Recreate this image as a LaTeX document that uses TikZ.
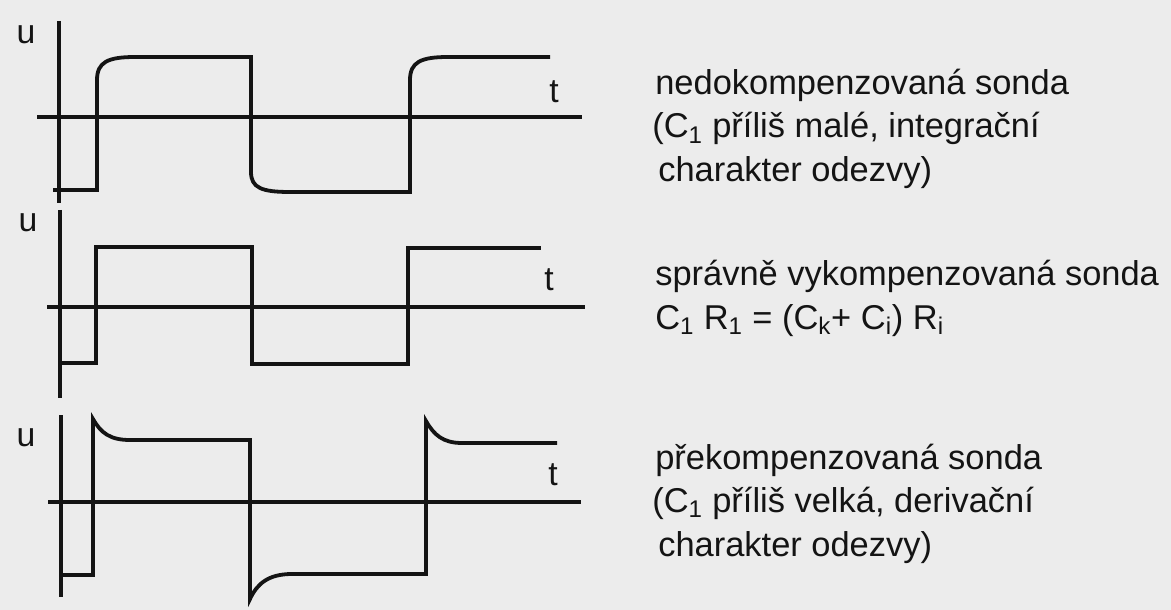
\documentclass[tikz,border=0pt]{standalone}
\usepackage{fontspec}
\setmainfont{Liberation Sans}
\usepackage{xcolor}
\usepackage{tikz}

\definecolor{scanbg}{RGB}{236,236,236}
\definecolor{ink}{RGB}{20,20,20}

\begin{document}
\begin{tikzpicture}[x=0.025cm, y=-0.025cm,
    axis/.style={draw=ink, line width=2.3pt},
    wave/.style={draw=ink, line width=2.7pt, line join=miter},
    axlabel/.style={text=ink, inner sep=0pt, font=\fontsize{24}{28}\selectfont},
    caption/.style={text=ink, inner sep=0pt, anchor=base west,
                    font=\fontsize{24.5}{29}\selectfont}]

    % Scanned page background
    \fill[scanbg] (0,0) rectangle (1171,610);
    \useasboundingbox (0,0) rectangle (1171,610);

    % --------------------
    % Undercompensated probe
    % --------------------
    \draw[axis] (59,21) -- (59,203);
    \draw[axis] (37,117) -- (582,117);
    \node[axlabel] (uA) at (26,35) {u};
    \node[axlabel] (tA) at (554,92) {t};
    \draw[wave] (53,190) -- (97,190) -- (97,80)
        .. controls (97,62) and (108,57) .. (135,57) -- (251,57) -- (251,172)
        .. controls (251,188) and (262,192) .. (290,192) -- (410,192) -- (410,80)
        .. controls (410,62) and (421,57) .. (448,57) -- (550,57);

    \node[caption] (lineA1) at (655,95) {nedokompenzovaná sonda};
    \node[caption] (lineA2) at (652,138) {(C\textsubscript{1} příliš malé, integrační};
    \node[caption] (lineA3) at (658,182) {charakter odezvy)};

    % --------------------
    % Correctly compensated probe
    % --------------------
    \draw[axis] (60,210) -- (60,398);
    \draw[axis] (47,307) -- (585,307);
    \node[axlabel] (uB) at (28,223) {u};
    \node[axlabel] (tB) at (549,280) {t};
    \draw[wave] (60,363) -- (96,363) -- (96,247) -- (252,247) -- (252,364)
        -- (408,364) -- (408,248) -- (541,248);

    \node[caption] (lineB1) at (655,285) {správně vykompenzovaná sonda};
    \node[caption] (lineB2) at (655,329)
        {C\textsubscript{1} R\textsubscript{1} = (C\textsubscript{k}+ C\textsubscript{i}) R\textsubscript{i}};

    % --------------------
    % Overcompensated probe
    % --------------------
    \draw[axis] (61,415) -- (61,597);
    \draw[axis] (48,502) -- (581,502);
    \node[axlabel] (uC) at (26,438) {u};
    \node[axlabel] (tC) at (553,475) {t};
    \draw[wave] (63,575) -- (93,575) -- (93,419)
        .. controls (101,433) and (110,440) .. (130,440) -- (250,440) -- (250,599)
        .. controls (257,584) and (268,574) .. (292,574) -- (426,574) -- (426,421)
        .. controls (434,435) and (443,443) .. (462,443) -- (557,443);

    \node[caption] (lineC1) at (655,469) {překompenzovaná sonda};
    \node[caption] (lineC2) at (652,512) {(C\textsubscript{1} příliš velká, derivační};
    \node[caption] (lineC3) at (658,556) {charakter odezvy)};

\end{tikzpicture}
\end{document}
